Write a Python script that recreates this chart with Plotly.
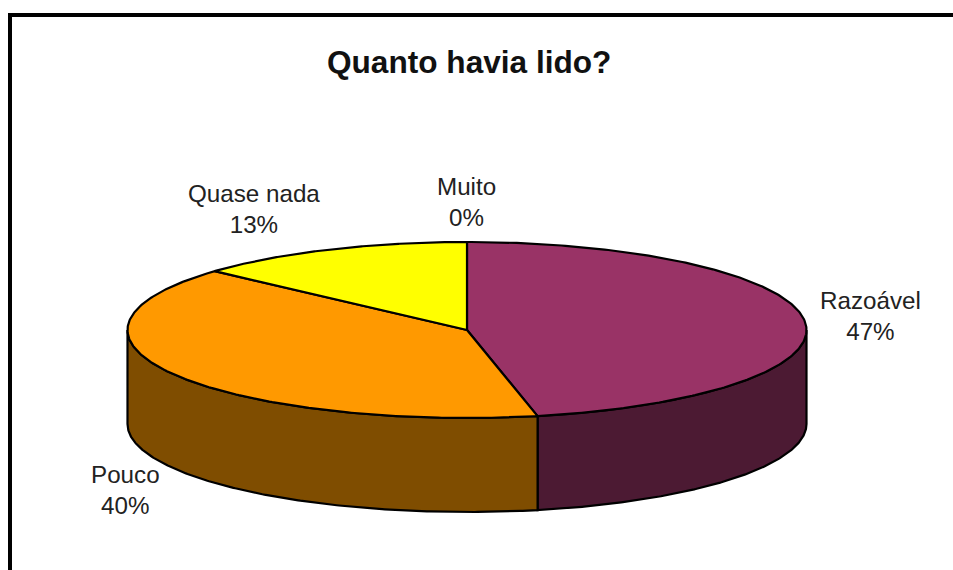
import numpy as np
import plotly.graph_objects as go

# Survey responses, in clockwise order from twelve o'clock
categories = ["Muito", "Razoável", "Pouco", "Quase nada"]
responses = [0, 14, 12, 4]

top_colors = ["#FFFFFF", "#993366", "#FF9900", "#FFFF00"]
wall_colors = ["#4C1A33", "#4C1A33", "#7F4D00", "#7F7F00"]

# Disc projection on a 953x570 canvas
CX, CY, RX, RY, DEPTH = 467, 330, 339.5, 88, 94
OUTLINE = dict(color="#000000", width=2.2)
TEXT_COLOR = "#222222"
LABEL_CENTERS = {
    "Muito": (466, 202),
    "Razoável": (870, 316),
    "Pouco": (125, 490),
    "Quase nada": (254, 209),
}


def arc(start, stop, drop=0.0):
    t = np.radians(np.linspace(start, stop, 240))
    return CX + RX * np.sin(t), CY - RY * np.cos(t) + drop


total = sum(responses)
edges = np.concatenate([[0], np.cumsum(responses)]) / total * 360

fig = go.Figure()

# Front walls: only the part of each slice on the lower half of the rim is visible
for i in range(len(categories)):
    start, stop = max(edges[i], 90), min(edges[i + 1], 270)
    if stop <= start:
        continue
    x_top, y_top = arc(start, stop)
    x_low, y_low = arc(stop, start, DEPTH)
    fig.add_trace(go.Scatter(
        x=np.r_[x_top, x_low, x_top[0]], y=np.r_[y_top, y_low, y_top[0]],
        mode="lines", fill="toself", fillcolor=wall_colors[i],
        line=OUTLINE, hoverinfo="skip", showlegend=False,
    ))

# Top face
for i in range(len(categories)):
    x_arc, y_arc = arc(edges[i], edges[i + 1])
    fig.add_trace(go.Scatter(
        x=np.r_[CX, x_arc, CX], y=np.r_[CY, y_arc, CY],
        mode="lines", fill="toself", fillcolor=top_colors[i],
        line=OUTLINE, hoverinfo="skip", showlegend=False,
    ))

# Category and share labels
for name, count in zip(categories, responses):
    lx, ly = LABEL_CENTERS[name]
    fig.add_annotation(
        x=lx, y=ly, xref="x", yref="y", showarrow=False,
        text=f"{name}<br>{count / total:.0%}", align="center",
        font=dict(family="Liberation Sans, Arial", size=24.2, color=TEXT_COLOR),
    )

fig.add_annotation(
    x=469, y=62, xref="x", yref="y", showarrow=False, text="<b>Quanto havia lido?</b>",
    font=dict(family="Liberation Sans, Arial", size=31.6, color="#111111"),
)

# Heavy frame running off the top-right and bottom-left of the page
frame = dict(type="rect", xref="x", yref="y", fillcolor="#000000", line_width=0, layer="above")
fig.add_shape(x0=8, x1=953, y0=13, y1=17, **frame)
fig.add_shape(x0=8, x1=12, y0=13, y1=570, **frame)

fig.update_xaxes(range=[0, 953], visible=False, fixedrange=True)
fig.update_yaxes(range=[570, 0], visible=False, fixedrange=True)
fig.update_layout(
    width=953, height=570, margin=dict(l=0, r=0, t=0, b=0),
    paper_bgcolor="#FFFFFF", plot_bgcolor="#FFFFFF", showlegend=False,
)

fig.write_html("out.html", config={"displayModeBar": False})
